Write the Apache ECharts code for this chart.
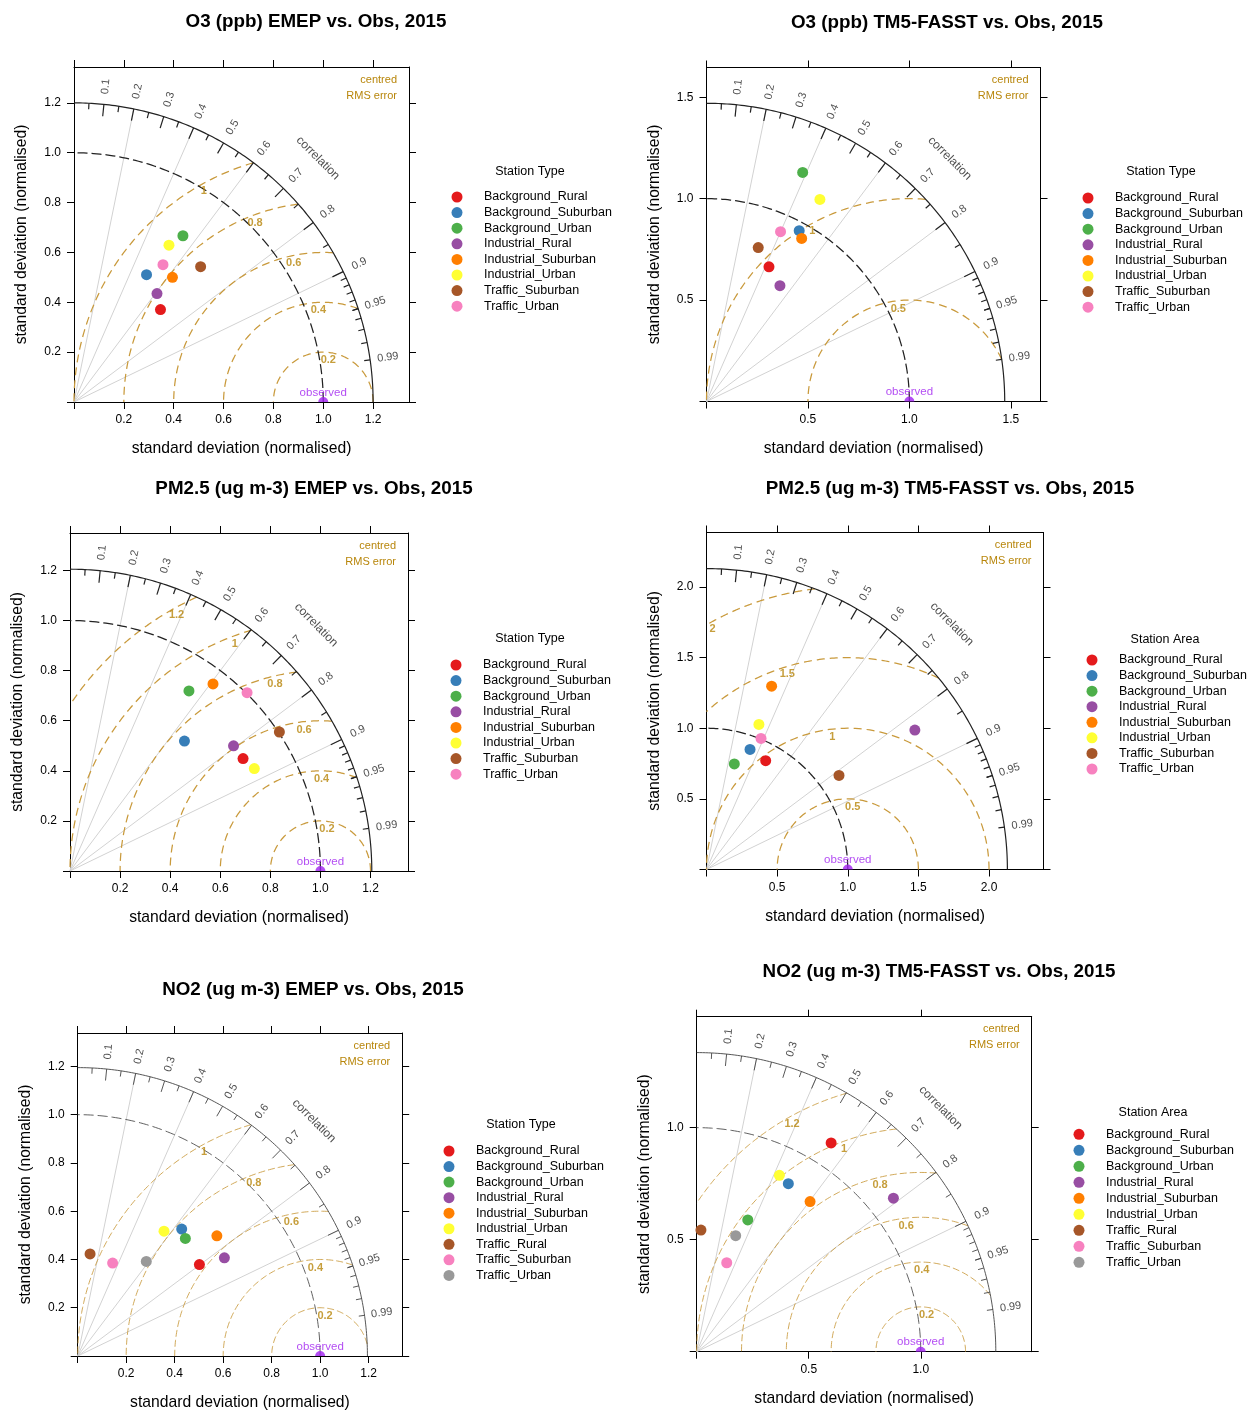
<!DOCTYPE html>
<html>
<head>
<meta charset="utf-8">
<title>Taylor diagrams – EMEP and TM5-FASST vs. observations, 2015</title>
<script src="https://cdn.jsdelivr.net/npm/echarts@6.0.0/dist/echarts.min.js"></script>
<style>
  html, body { margin: 0; padding: 0; background: #fff; }
  #chart { width: 1250px; height: 1412px; }
</style>
</head>
<body>
<div id="chart"></div>
<script>
// ---------------------------------------------------------------------------
// Station classes and their colours (ColorBrewer Set1)
// ---------------------------------------------------------------------------
const stationClasses8 = ['Background_Rural', 'Background_Suburban', 'Background_Urban',
  'Industrial_Rural', 'Industrial_Suburban', 'Industrial_Urban',
  'Traffic_Suburban', 'Traffic_Urban'];
const stationClasses9 = ['Background_Rural', 'Background_Suburban', 'Background_Urban',
  'Industrial_Rural', 'Industrial_Suburban', 'Industrial_Urban',
  'Traffic_Rural', 'Traffic_Suburban', 'Traffic_Urban'];
const set1Colors8 = ['#E41A1C', '#377EB8', '#4DAF4A', '#984EA3', '#FF7F00', '#FFFF33', '#A65628', '#F781BF'];
const set1Colors9 = ['#E41A1C', '#377EB8', '#4DAF4A', '#984EA3', '#FF7F00', '#FFFF33', '#A65628', '#F781BF', '#999999'];

// ---------------------------------------------------------------------------
// Model skill per station class, in normalised Taylor space:
// [sd * R, sd * sqrt(1 - R^2)]  (sd normalised by the observed sd)
// ---------------------------------------------------------------------------
const o3Emep = [[0.347, 0.371], [0.291, 0.511], [0.437, 0.667], [0.333, 0.435],
  [0.395, 0.500], [0.381, 0.629], [0.508, 0.543], [0.357, 0.551]];
const o3Tm5 = [[0.308, 0.664], [0.457, 0.842], [0.474, 1.129], [0.362, 0.571],
  [0.469, 0.804], [0.559, 0.996], [0.255, 0.759], [0.365, 0.837]];
const pm25Emep = [[0.691, 0.449], [0.457, 0.519], [0.475, 0.719], [0.653, 0.500],
  [0.571, 0.747], [0.736, 0.409], [0.836, 0.555], [0.707, 0.712]];
const pm25Tm5 = [[0.419, 0.770], [0.308, 0.850], [0.197, 0.747], [1.475, 0.987],
  [0.461, 1.298], [0.371, 1.027], [0.938, 0.666], [0.386, 0.928]];
const no2Emep = [[0.502, 0.379], [0.429, 0.526], [0.444, 0.487], [0.605, 0.407],
  [0.574, 0.498], [0.356, 0.517], [0.051, 0.423], [0.144, 0.385], [0.283, 0.392]];
const no2Tm5 = [[0.600, 0.932], [0.409, 0.750], [0.228, 0.588], [0.878, 0.685],
  [0.506, 0.670], [0.369, 0.787], [0.019, 0.543], [0.134, 0.397], [0.174, 0.518]];

// Axis ticks and correlation annotations
const sdTicksFine = [0, 0.2, 0.4, 0.6, 0.8, 1.0, 1.2];
const sdTicksCoarse = [0, 0.5, 1.0, 1.5, 2.0];
const corrLabels = [0.1, 0.2, 0.3, 0.4, 0.5, 0.6, 0.7, 0.8, 0.9, 0.95, 0.99];
const corrGridLines = [0.2, 0.4, 0.6, 0.8, 0.9];

// Centred RMS error contour levels per diagram
const rmsFine5 = [0.2, 0.4, 0.6, 0.8, 1];
const rmsFine6 = [0.2, 0.4, 0.6, 0.8, 1, 1.2];
const rmsHalf2 = [0.5, 1];
const rmsHalf4 = [0.5, 1, 1.5, 2];

// ---------------------------------------------------------------------------
// Panel definitions (box = [left, top, size] in px)
// ---------------------------------------------------------------------------
const panels = [
  { title: 'O3 (ppb) EMEP vs. Obs, 2015', names: stationClasses8, colors: set1Colors8, points: o3Emep,
    legendTitle: 'Station Type', maxSd: 1.2, rms: rmsFine5, ticks: sdTicksFine,
    box: [74, 67, 335], titleAt: [316, 22], legendAt: [457, 197, 15.6], legendTitleAt: [530, 172], thin: false },
  { title: 'O3 (ppb) TM5-FASST vs. Obs, 2015', names: stationClasses8, colors: set1Colors8, points: o3Tm5,
    legendTitle: 'Station Type', maxSd: 1.47, rms: rmsHalf2, ticks: sdTicksCoarse,
    box: [706.5, 67.5, 334], titleAt: [947, 23], legendAt: [1088, 198, 15.6], legendTitleAt: [1161, 172], thin: false },
  { title: 'PM2.5 (ug m-3) EMEP vs. Obs, 2015', names: stationClasses8, colors: set1Colors8, points: pm25Emep,
    legendTitle: 'Station Type', maxSd: 1.205, rms: rmsFine6, ticks: sdTicksFine,
    box: [70, 533, 338], titleAt: [314, 489], legendAt: [456, 665, 15.6], legendTitleAt: [530, 639], thin: false },
  { title: 'PM2.5 (ug m-3) TM5-FASST vs. Obs, 2015', names: stationClasses8, colors: set1Colors8, points: pm25Tm5,
    legendTitle: 'Station Area', maxSd: 2.13, rms: rmsHalf4, ticks: sdTicksCoarse,
    box: [706.5, 532.5, 337], titleAt: [950, 489], legendAt: [1092, 660, 15.57], legendTitleAt: [1165, 640], thin: false },
  { title: 'NO2 (ug m-3) EMEP vs. Obs, 2015', names: stationClasses9, colors: set1Colors9, points: no2Emep,
    legendTitle: 'Station Type', maxSd: 1.195, rms: rmsFine5, ticks: sdTicksFine,
    box: [77.7, 1033, 324.5], titleAt: [313, 990], legendAt: [449, 1151, 15.55], legendTitleAt: [521, 1125], thin: true },
  { title: 'NO2 (ug m-3) TM5-FASST vs. Obs, 2015', names: stationClasses9, colors: set1Colors9, points: no2Tm5,
    legendTitle: 'Station Area', maxSd: 1.335, rms: rmsFine6, ticks: sdTicksCoarse,
    box: [696.7, 1016.7, 335], titleAt: [939, 972], legendAt: [1079, 1134.3, 16.0], legendTitleAt: [1153, 1113], thin: true }
];

// ---------------------------------------------------------------------------
// Styling
// ---------------------------------------------------------------------------
const FONT = '"Liberation Sans", Arial, Helvetica, sans-serif';
const RMS_TEXT = '#B8860B';
const RMS_LINE = '#C99A3C';
const OBS_COL = '#A020F0';

// geometry helpers
const polar = (r, th) => [r * Math.cos(th), r * Math.sin(th)];
function arcPoints(cx, r, t0, t1, n) {
  const pts = [];
  for (let k = 0; k <= n; k++) {
    const th = t0 + (t1 - t0) * k / n;
    pts.push([cx + r * Math.cos(th), r * Math.sin(th)]);
  }
  return pts;
}

const option = {
  animation: false,
  backgroundColor: '#ffffff',
  grid: [], xAxis: [], yAxis: [], series: [], legend: [], graphic: []
};

panels.forEach((p, i) => {
  const [left, top, size] = p.box;
  const M = p.maxSd;
  const axisMax = M * 1.12;
  const lw = p.thin ? 0.85 : 1.25;
  const inkCol = p.thin ? '#444' : '#222';

  option.grid.push({ left, top, width: size, height: size, containLabel: false });

  const ticks = p.ticks.filter(v => v <= axisMax);
  const labelled = ticks.filter(v => v > 0);
  const common = {
    type: 'value', gridIndex: i, min: 0, max: axisMax,
    splitLine: { show: false },
    axisLine: { show: true, onZero: false, lineStyle: { color: '#000', width: 1 } },
    axisTick: { show: true, length: 7, lineStyle: { color: '#000', width: 1 }, customValues: ticks }
  };
  const labelStyle = { fontFamily: FONT, fontSize: 12, color: '#000', customValues: labelled,
    formatter: v => Number(v).toFixed(1) };
  const nameStyle = { fontFamily: FONT, fontSize: 15.7, color: '#000' };

  option.xAxis.push(Object.assign({}, common, {
    position: 'bottom', axisLabel: Object.assign({ margin: 12 }, labelStyle),
    name: 'standard deviation (normalised)', nameLocation: 'middle', nameGap: 39, nameTextStyle: nameStyle
  }));
  option.xAxis.push(Object.assign({}, common, { position: 'top', axisLabel: { show: false } }));
  option.yAxis.push(Object.assign({}, common, {
    position: 'left', axisLabel: Object.assign({ margin: 13 }, labelStyle),
    name: 'standard deviation (normalised)', nameLocation: 'middle', nameGap: 44, nameTextStyle: nameStyle
  }));
  option.yAxis.push(Object.assign({}, common, { position: 'right', axisLabel: { show: false } }));

  const ax = { xAxisIndex: 2 * i, yAxisIndex: 2 * i };
  const linesSeries = (data, style, z) => Object.assign({
    type: 'lines', coordinateSystem: 'cartesian2d', polyline: true, silent: true, z,
    data: data.map(c => ({ coords: c })),
    lineStyle: Object.assign({ opacity: 1 }, style)
  }, ax);

  // correlation grid rays
  option.series.push(linesSeries(
    corrGridLines.map(c => [[0, 0], polar(M, Math.acos(c))]),
    { color: '#d2d2d2', width: 1 }, 1));

  // centred RMS error contours around the observed point (1, 0)
  const rmsArcs = p.rms.map(g => {
    let t0 = 0, t1 = Math.PI;
    if (1 + g > M) t0 = Math.acos((M * M - 1 - g * g) / (2 * g));
    if (g > 1) t1 = Math.acos(-1 / g);
    return arcPoints(1, g, t0, t1, 120);
  });
  option.series.push(linesSeries(rmsArcs,
    { color: RMS_LINE, width: lw, type: p.thin ? [7, 3] : [8, 5] }, 2));

  // observed standard deviation arc
  option.series.push(linesSeries([arcPoints(0, 1, 0, Math.PI / 2, 120)],
    { color: inkCol, width: lw, type: [10, 4] }, 3));

  // outer boundary arc and correlation tick marks
  const tickSegs = [];
  for (let k = 1; k <= 9; k++) {
    const th = Math.acos(k / 10);
    tickSegs.push([polar(0.96 * M, th), polar(M, th)]);
  }
  for (let k = 0; k < 10; k++) {
    const th = Math.acos(0.05 + 0.1 * k);
    tickSegs.push([polar(0.98 * M, th), polar(M, th)]);
  }
  for (let k = 91; k <= 99; k++) {
    const th = Math.acos(k / 100);
    tickSegs.push([polar(0.98 * M, th), polar(M, th)]);
  }
  option.series.push(linesSeries([arcPoints(0, M, 0, Math.PI / 2, 160)].concat(tickSegs),
    { color: inkCol, width: p.thin ? 0.9 : 1.2 }, 3));

  const textSeries = (data, label, z) => Object.assign({
    type: 'scatter', silent: true, clip: false, z, symbolSize: 1,
    itemStyle: { color: 'rgba(0,0,0,0)' },
    data, label: Object.assign({ show: true, formatter: '{b}', fontFamily: FONT }, label)
  }, ax);

  // correlation values around the arc
  option.series.push(textSeries(corrLabels.map(c => {
    const th = Math.acos(c);
    return { name: String(c), value: polar(1.06 * M, th), label: { rotate: th * 180 / Math.PI } };
  }), { position: 'inside', fontSize: 11, color: '#222' }, 6));

  // "correlation" caption
  option.series.push(textSeries([{ name: 'correlation', value: polar(1.153 * M, Math.PI / 4), label: { rotate: -45 } }],
    { position: 'inside', fontSize: 12, color: '#222' }, 6));

  // RMS contour labels
  const n = p.rms.length;
  option.series.push(textSeries(p.rms.map((g, j) => {
    const idx = Math.floor(45 + (j + 1) * 25 / n + 1e-9);
    const a = (idx - 1) * 0.03;
    return { name: String(g), value: [1 + g * Math.cos(a), g * Math.sin(a)] };
  }), { position: 'bottom', distance: 2, fontSize: 11, fontWeight: 'bold', color: RMS_TEXT }, 6));

  // observed reference point
  option.series.push(Object.assign({
    type: 'scatter', silent: true, clip: false, z: 7,
    symbol: 'path://M0 10 A10 10 0 0 1 20 10 Z', symbolSize: [10, 5], symbolOffset: [0, -2.5],
    itemStyle: { color: OBS_COL }, data: [[1, 0]]
  }, ax));
  option.series.push(textSeries([{ name: 'observed', value: [1, 0] }],
    { position: 'top', distance: 3, fontSize: 11.5, color: OBS_COL }, 7));

  // station class points
  p.names.forEach((nm, k) => {
    option.series.push(Object.assign({
      type: 'scatter', name: nm, z: 10, symbolSize: 11,
      itemStyle: { color: p.colors[k], opacity: 1 },
      data: [p.points[k]]
    }, ax));
  });

  // legend
  const [lx, ly, lgap] = p.legendAt;
  option.legend.push({
    orient: 'vertical', left: lx - 5.5, top: ly - 6.5, padding: 0,
    itemWidth: 44, itemHeight: 11, itemGap: lgap - 13, icon: 'circle',
    selectedMode: false,
    textStyle: { fontFamily: FONT, fontSize: 12.5, color: '#000', lineHeight: 11 },
    data: p.names.map((nm, k) => ({ name: nm, itemStyle: { color: p.colors[k] } }))
  });

  // titles and annotations
  option.graphic.push({
    type: 'text', x: p.titleAt[0], y: p.titleAt[1], silent: true,
    style: { text: p.title, fontFamily: FONT, fontSize: 18.8, fontWeight: 'bold', fill: '#000',
      align: 'center', verticalAlign: 'middle' }
  });
  option.graphic.push({
    type: 'text', x: p.legendTitleAt[0], y: p.legendTitleAt[1], silent: true,
    style: { text: p.legendTitle, fontFamily: FONT, fontSize: 12.5, fill: '#000',
      align: 'center', verticalAlign: 'middle' }
  });
  option.graphic.push({
    type: 'text', x: left + size - 12, y: top + 12.5, silent: true,
    style: { text: 'centred', fontFamily: FONT, fontSize: 11, fill: RMS_TEXT, align: 'right', verticalAlign: 'middle' }
  });
  option.graphic.push({
    type: 'text', x: left + size - 12, y: top + 28.5, silent: true,
    style: { text: 'RMS error', fontFamily: FONT, fontSize: 11, fill: RMS_TEXT, align: 'right', verticalAlign: 'middle' }
  });
});

const chart = echarts.init(document.getElementById('chart'), null, { renderer: 'canvas' });
chart.setOption(option);
</script>
</body>
</html>
